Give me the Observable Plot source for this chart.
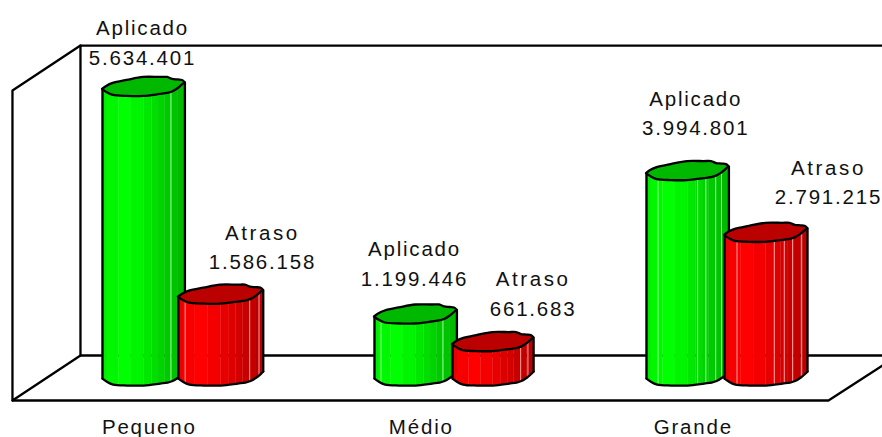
<!DOCTYPE html>
<html><head><meta charset="utf-8">
<style>html,body{margin:0;padding:0;background:#fff}svg{display:block}
.word-wide text{letter-spacing:2.6px}</style>
<script src="https://cdn.jsdelivr.net/npm/d3@7"></script>
<script src="https://cdn.jsdelivr.net/npm/@observablehq/plot@0.6"></script>
</head><body><div id="chart"></div>
<script>
const categories = ["Pequeno", "Médio", "Grande"];
const aplicado = [5634401, 1199446, 3994801];
const atraso = [1586158, 661683, 2791215];
const seriesNames = ["Aplicado", "Atraso"];
const fmt = v => d3.format(",")(v).replace(/,/g, ".");

// Layout / style settings
const W = 882, H = 437;
const yDomain = [-1169000, 7349000];   // value axis, includes the floor's front
const PX = (yDomain[1] - yDomain[0]) / H; // value units per pixel
const barW = [[.303, .303, .303], [.312, .298, .305]];
const barStart = [[0, 0, 0], [.279, .287, .287]];
const catLabelOffset = 0.172;
const labelPos = { // [x offset, label-line-centre lift in px]
  Aplicado: [[0.147, 60], [0.147, 66.5], [0.181, 73.5]],
  Atraso: [[0.588, 63], [0.583, 64], [0.669, 66]]
};
const profU = [0, .05, .13, .3, .5, .7, .79, .85, .92, .97, 1];
const profFront = [1, 4, 7, 8, 8, 6, 5, 3.5, 0, -3.5, -6];
const profBack = [1, -2, -5, -8, -11, -11, -11, -9, -8.5, -8, -6];
const front = d3.scaleLinear(profU, profFront), back = d3.scaleLinear(profU, profBack);
const stripU = [0, .06, .2, .35, .5, .6, .68, .76, .84, .92, 1];
const stripShade = [.92, .97, 1, .96, .91, .87, .83, .79, .76, .73];
const glints = [[[.83], [.08, .83], [.14, .62, .72, .84, .91]], [[.08, .84, .95], [.84, .93], [.15, .6, .72, .82, .93]]];
const hue = [v => `rgb(0,${v},0)`, v => `rgb(${v},0,0)`];
const capFill = ["#00b800", "#bb0000"], glintFill = ["#8fff8f", "#ffa0a0"];

const bars = [];
[aplicado, atraso].forEach((vals, s) => vals.forEach((v, c) =>
  bars.push({s, c, v, x0: c + barStart[s][c], w: barW[s][c]})));

const X = (b, u) => b.x0 + u * b.w;
const stops = (a, b) => [a, ...profU.filter(u => u > a && u < b), b];

const stripData = [], baseData = [], sideData = [], capData = [], glintData = [];
for (const b of bars) {
  const id = `${b.s}-${b.c}`;
  stripU.slice(0, -1).forEach((a, i) => {
    for (const u of stops(a, stripU[i + 1]))
      stripData.push({s: b.s, z: `${id}-${i}`, x: X(b, u), y1: -front(u) * PX, y2: b.v - front(u) * PX,
        fill: hue[b.s](Math.round(255 * stripShade[i]))});
  });
  for (const u of profU) baseData.push({s: b.s, z: id, x: X(b, u), y: -front(u) * PX});
  for (const u of [0, 1]) for (const top of [0, 1])
    sideData.push({s: b.s, z: `${id}-${u}`, x: X(b, u), y: (top ? b.v : 0) - front(u) * PX});
  for (const u of profU) capData.push({s: b.s, z: id, x: X(b, u), y1: b.v - front(u) * PX, y2: b.v - back(u) * PX});
  for (const u of glints[b.s][b.c]) for (const e of [0, 1])
    glintData.push({s: b.s, z: `${id}-${u}`, x: X(b, u), y: e ? b.v - front(u) * PX : -front(u) * PX});
}

// Frame (3D walls) in scale units
const fx = {back: -0.081, front: -0.331, frontR: 2.669, right: 2.868};
const fy = {top: 6471000, floorBack: 429000, sideTop: 5595000, floorFront: -448000, rightEnd: 234000};
const frame = [
  [[fx.right, fy.top], [fx.back, fy.top], [fx.back, fy.floorBack], [fx.right, fy.floorBack]],
  [[fx.back, fy.top], [fx.front, fy.sideTop], [fx.front, fy.floorFront], [fx.back, fy.floorBack]],
  [[fx.front, fy.floorFront], [fx.frontR, fy.floorFront], [fx.right, fy.rightEnd]]
].flatMap((seg, i) => seg.map(([x, y]) => ({z: i, x, y})));

const labelData = bars.flatMap(b => {
  const [dx, lift] = labelPos[seriesNames[b.s]][b.c];
  return [
    {x: b.c + dx, y: b.v + lift * PX, t: seriesNames[b.s], wide: b.s === 1},
    {x: b.c + dx, y: b.v + (lift - 29.5) * PX, t: fmt(b.v), wide: false}
  ];
});
const catData = categories.map((t, i) => ({t, x: i + catLabelOffset, y: -50 * PX}));

const lineBlack = {stroke: "#000", strokeWidth: 2.3, strokeLinejoin: "round"};
const barMarks = s => [
  Plot.areaY(stripData.filter(d => d.s === s), {x: "x", y1: "y1", y2: "y2", z: "z", fill: "fill", stroke: "fill", strokeWidth: 0.4}),
  Plot.line(glintData.filter(d => d.s === s), {x: "x", y: "y", z: "z", stroke: glintFill[s], strokeWidth: 1}),
  Plot.line(baseData.filter(d => d.s === s), {x: "x", y: "y", z: "z", curve: "catmull-rom", ...lineBlack}),
  Plot.line(sideData.filter(d => d.s === s), {x: "x", y: "y", z: "z", ...lineBlack}),
  Plot.areaY(capData.filter(d => d.s === s), {x: "x", y1: "y1", y2: "y2", z: "z", fill: capFill[s], curve: "catmull-rom", ...lineBlack})
];
const textStyle = {text: "t", x: "x", y: "y", fontFamily: "'Liberation Sans', Arial, sans-serif", fontSize: 20.5, fill: "#111", textAnchor: "middle", lineAnchor: "middle"};

const plot = Plot.plot({
  width: W, height: H,
  marginTop: 0, marginRight: 0, marginBottom: 0, marginLeft: 0,
  style: {background: "#fff", letterSpacing: "1.8px"},
  x: {type: "linear", domain: [-102 / 272, 780 / 272], range: [0, W], axis: null},
  y: {type: "linear", domain: yDomain, range: [H, 0], axis: null},
  color: {type: "identity"},
  marks: [
    Plot.line(frame, {x: "x", y: "y", z: "z", ...lineBlack}),
    ...barMarks(0),
    ...barMarks(1),
    Plot.text(labelData.filter(d => !d.wide), textStyle),
    Plot.text(labelData.filter(d => d.wide), {...textStyle, className: "word-wide"}),
    Plot.text(catData, textStyle)
  ]
});
document.getElementById("chart").append(plot);
</script></body></html>
